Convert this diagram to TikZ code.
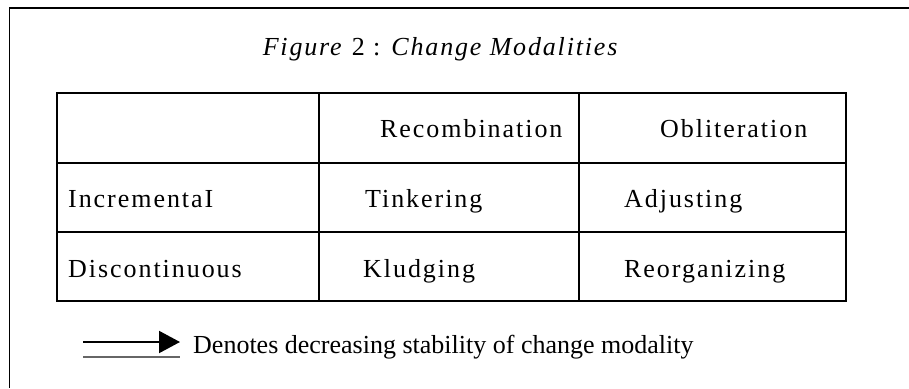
\documentclass[tikz,border=0pt]{standalone}
\usepackage{fontspec}
\setmainfont{Liberation Serif}
\newfontfamily\cellfont{Liberation Serif}[LetterSpace=7.5]
\newfontfamily\titlefont{Liberation Serif}[LetterSpace=7]
\usetikzlibrary{arrows.meta}
\tikzset{
	cell/.style={anchor=base west, inner sep=0pt, font=\cellfont\fontsize{26}{30}\selectfont},
	rule/.style={line width=2pt, color=black},
}

\begin{document}
\begin{tikzpicture}[x=1pt, y=-1pt]
			%%%%% START %%%%%
			\useasboundingbox (0, 0) rectangle (909, 388);
			
			\draw[line width=1.6pt] (909, 8) -- (9.5, 8) -- (9.5, 388);
			
			\node[anchor=base, inner sep=0pt, font=\titlefont\fontsize{26}{30}\selectfont] (title) at (441, 55) {\textit{Figure} 2 : \textit{Change Modalities}};
			
			\draw[rule] (57, 93) rectangle (846, 301);
			\draw[rule] (57, 163) -- (846, 163);
			\draw[rule] (57, 232) -- (846, 232);
			\draw[rule] (319, 93) -- (319, 301);
			\draw[rule] (579, 93) -- (579, 301);
			
			\node[cell] (recomb) at (380, 137) {Recombination};
			\node[cell] (oblit) at (660, 137) {Obliteration};
			
			\node[cell] (incr) at (68, 207) {IncrementaI};
			\node[cell] (tinker) at (365, 207) {Tinkering};
			\node[cell] (adjust) at (624, 207) {Adjusting};
			
			\node[cell] (discont) at (68, 277) {Discontinuous};
			\node[cell] (kludge) at (363, 277) {Kludging};
			\node[cell] (reorg) at (624, 277) {Reorganizing};
			
			\coordinate (legstart) at (83, 342);
			\coordinate (legend) at (180, 342);
			\draw[line width=2pt, -{Triangle[length=21pt, width=22pt]}] (legstart) -- (legend);
			\draw[line width=2pt, color=black!60] (83, 357) -- (180, 357);
			\node[cell, font=\rmfamily\fontsize{26}{30}\selectfont] (legtext) at (193, 353) {Denotes decreasing stability of change modality};
			
			%%%%% END %%%%%
\end{tikzpicture}
\end{document}
